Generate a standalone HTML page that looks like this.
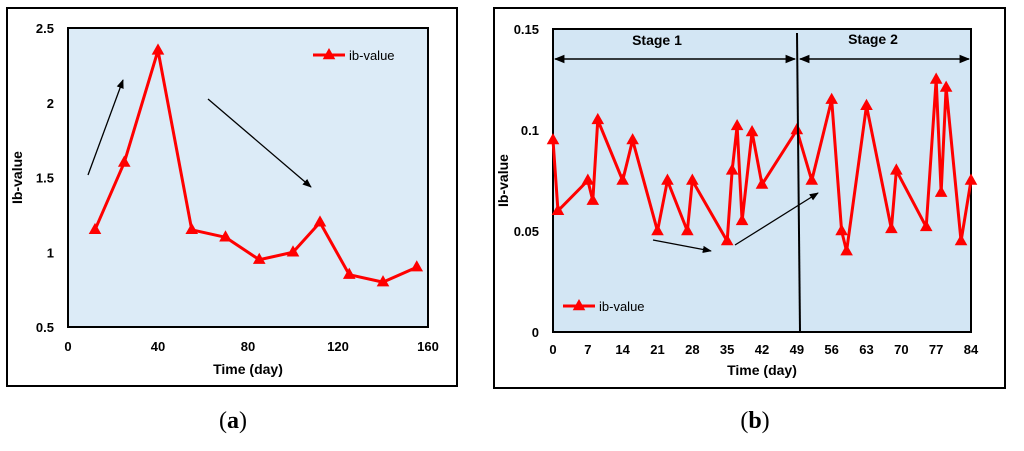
<!DOCTYPE html>
<html><head><meta charset="utf-8"><style>
body{margin:0;background:#fff;width:1024px;height:446px;overflow:hidden}
svg{font-family:"Liberation Sans",sans-serif}
</style></head><body>
<svg id="s" width="1024" height="446">
<defs><marker id="ah" viewBox="0 0 10 10" refX="9" refY="5" markerWidth="7" markerHeight="7" orient="auto-start-reverse"><path d="M0,1 L10,5 L0,9 z" fill="#000"/></marker></defs>
<rect x="7" y="8" width="450" height="378" fill="#fff" stroke="#000" stroke-width="2"/>
<rect x="494" y="8" width="511" height="380" fill="#fff" stroke="#000" stroke-width="2"/>
<g id="ga"></g><g id="gb"></g>
<text x="233" y="428" font-family="Liberation Serif" font-size="24" text-anchor="middle">(<tspan font-weight="bold">a</tspan>)</text>
<text x="755" y="428" font-family="Liberation Serif" font-size="24" text-anchor="middle">(<tspan font-weight="bold">b</tspan>)</text>
</svg>
<script>
const aDays=[12,25,40,55,70,85,100,112,125,140,155];
const aVals=[1.15,1.6,2.35,1.15,1.1,0.95,1.0,1.2,0.85,0.8,0.9];
const aXTicks=[0,40,80,120,160];
const aYTicks=[0.5,1,1.5,2,2.5];
const bDays=[0,1,7,8,9,14,16,21,23,27,28,35,36,37,38,40,42,49,52,56,58,59,63,68,69,75,77,78,79,82,84];
const bVals=[0.095,0.06,0.075,0.065,0.105,0.075,0.095,0.05,0.075,0.05,0.075,0.045,0.08,0.102,0.055,0.099,0.073,0.1,0.075,0.115,0.05,0.04,0.112,0.051,0.08,0.052,0.125,0.069,0.121,0.045,0.075];
const bXTicks=[0,7,14,21,28,35,42,49,56,63,70,77,84];
const bYTicks=[0,0.05,0.1,0.15];
const NS="http://www.w3.org/2000/svg";
function mk(p,t,a){const e=document.createElementNS(NS,t);for(const k in a)e.setAttribute(k,a[k]);p.appendChild(e);return e;}
function tri(p,x,y,s){return mk(p,'path',{d:`M${x},${y-s} L${x+s*0.9},${y+s*0.6} L${x-s*0.9},${y+s*0.6} Z`,fill:'#f00'});}
function chart(g,o){
 const X=v=>o.x0+(v-o.xmin)/(o.xmax-o.xmin)*(o.x1-o.x0);
 const Y=v=>o.y1-(v-o.ymin)/(o.ymax-o.ymin)*(o.y1-o.y0);
 const bg=mk(g,'rect',{x:o.x0,y:o.y0,width:o.x1-o.x0,height:o.y1-o.y0,fill:o.fill,stroke:'#000','stroke-width':2});
 
 
 o.xt.forEach(v=>{const t=mk(g,'text',{x:X(v),y:o.y1+o.xtOff,'text-anchor':'middle','font-size':13,'font-weight':'bold'});t.textContent=v;
  
  });
 o.yt.forEach(v=>{const t=mk(g,'text',{x:o.x0-14,y:Y(v)+5,'text-anchor':'end','font-size':13,'font-weight':'bold'});t.textContent=v;
  
  });
 const xl=mk(g,'text',{x:(o.x0+o.x1)/2,y:o.y1+o.xlOff,'text-anchor':'middle','font-size':14,'font-weight':'bold'});xl.textContent='Time (day)';
 
 
 const yl=mk(g,'text',{x:0,y:0,transform:`translate(${o.ylx},${(o.y0+o.y1)/2}) rotate(-90)`,'text-anchor':'middle','font-size':14,'font-weight':'bold'});yl.textContent='Ib-value';
 
 
 const ln=mk(g,'polyline',{points:o.xs.map((d,i)=>X(d)+','+Y(o.ys[i])).join(' '),fill:'none',stroke:'#f00','stroke-width':3,'stroke-linejoin':'round'});
 
 
 o.xs.forEach((d,i)=>{const m=tri(g,X(d),Y(o.ys[i]),7);
  
  });
 const lg=mk(g,'g',{});
 
 
 mk(lg,'line',{x1:o.lx,y1:o.ly,x2:o.lx+32,y2:o.ly,stroke:'#f00','stroke-width':3});
 tri(lg,o.lx+16,o.ly,7);
 const lt=mk(lg,'text',{x:o.lx+36,y:o.ly+5,'font-size':13});lt.textContent='ib-value';
}
const ga=document.getElementById('ga'),gb=document.getElementById('gb');
chart(ga,{x0:68,x1:428,y0:28,y1:327,xmin:0,xmax:160,ymin:0.5,ymax:2.5,xt:aXTicks,yt:aYTicks,xs:aDays,ys:aVals,fill:'#dcebf7',ylx:22,lx:313,ly:55,xtOff:24,xlOff:47});
chart(gb,{x0:553,x1:971,y0:29,y1:332,xmin:0,xmax:84,ymin:0,ymax:0.15,xt:bXTicks,yt:bYTicks,xs:bDays,ys:bVals,fill:'#d3e6f4',ylx:508,lx:563,ly:306,xtOff:22,xlOff:43});
function arrow(p,x1,y1,x2,y2,w,name,both){const l=mk(p,'line',{x1,y1,x2,y2,stroke:'#000','stroke-width':w,'marker-end':'url(#ah)'});if(both)l.setAttribute('marker-start','url(#ah)');
 
 }
arrow(ga,88,175,123,80,1.3,'trend-arrow-up');
arrow(ga,208,99,311,187,1.3,'trend-arrow-down');
arrow(gb,653,240,711,251,1.3,'trend-arrow-down');
arrow(gb,735,245,818,193,1.3,'trend-arrow-up');
arrow(gb,555,59,795,59,1.5,'stage-1-span',true);
arrow(gb,800,59,969,59,1.5,'stage-2-span',true);
const sl=mk(gb,'line',{x1:797,y1:33,x2:800,y2:332,stroke:'#000','stroke-width':2});


[['Stage 1',657,45],['Stage 2',873,44]].forEach(s=>{const t=mk(gb,'text',{x:s[1],y:s[2],'text-anchor':'middle','font-size':14,'font-weight':'bold'});t.textContent=s[0];
 
 });
</script>
</body></html>
